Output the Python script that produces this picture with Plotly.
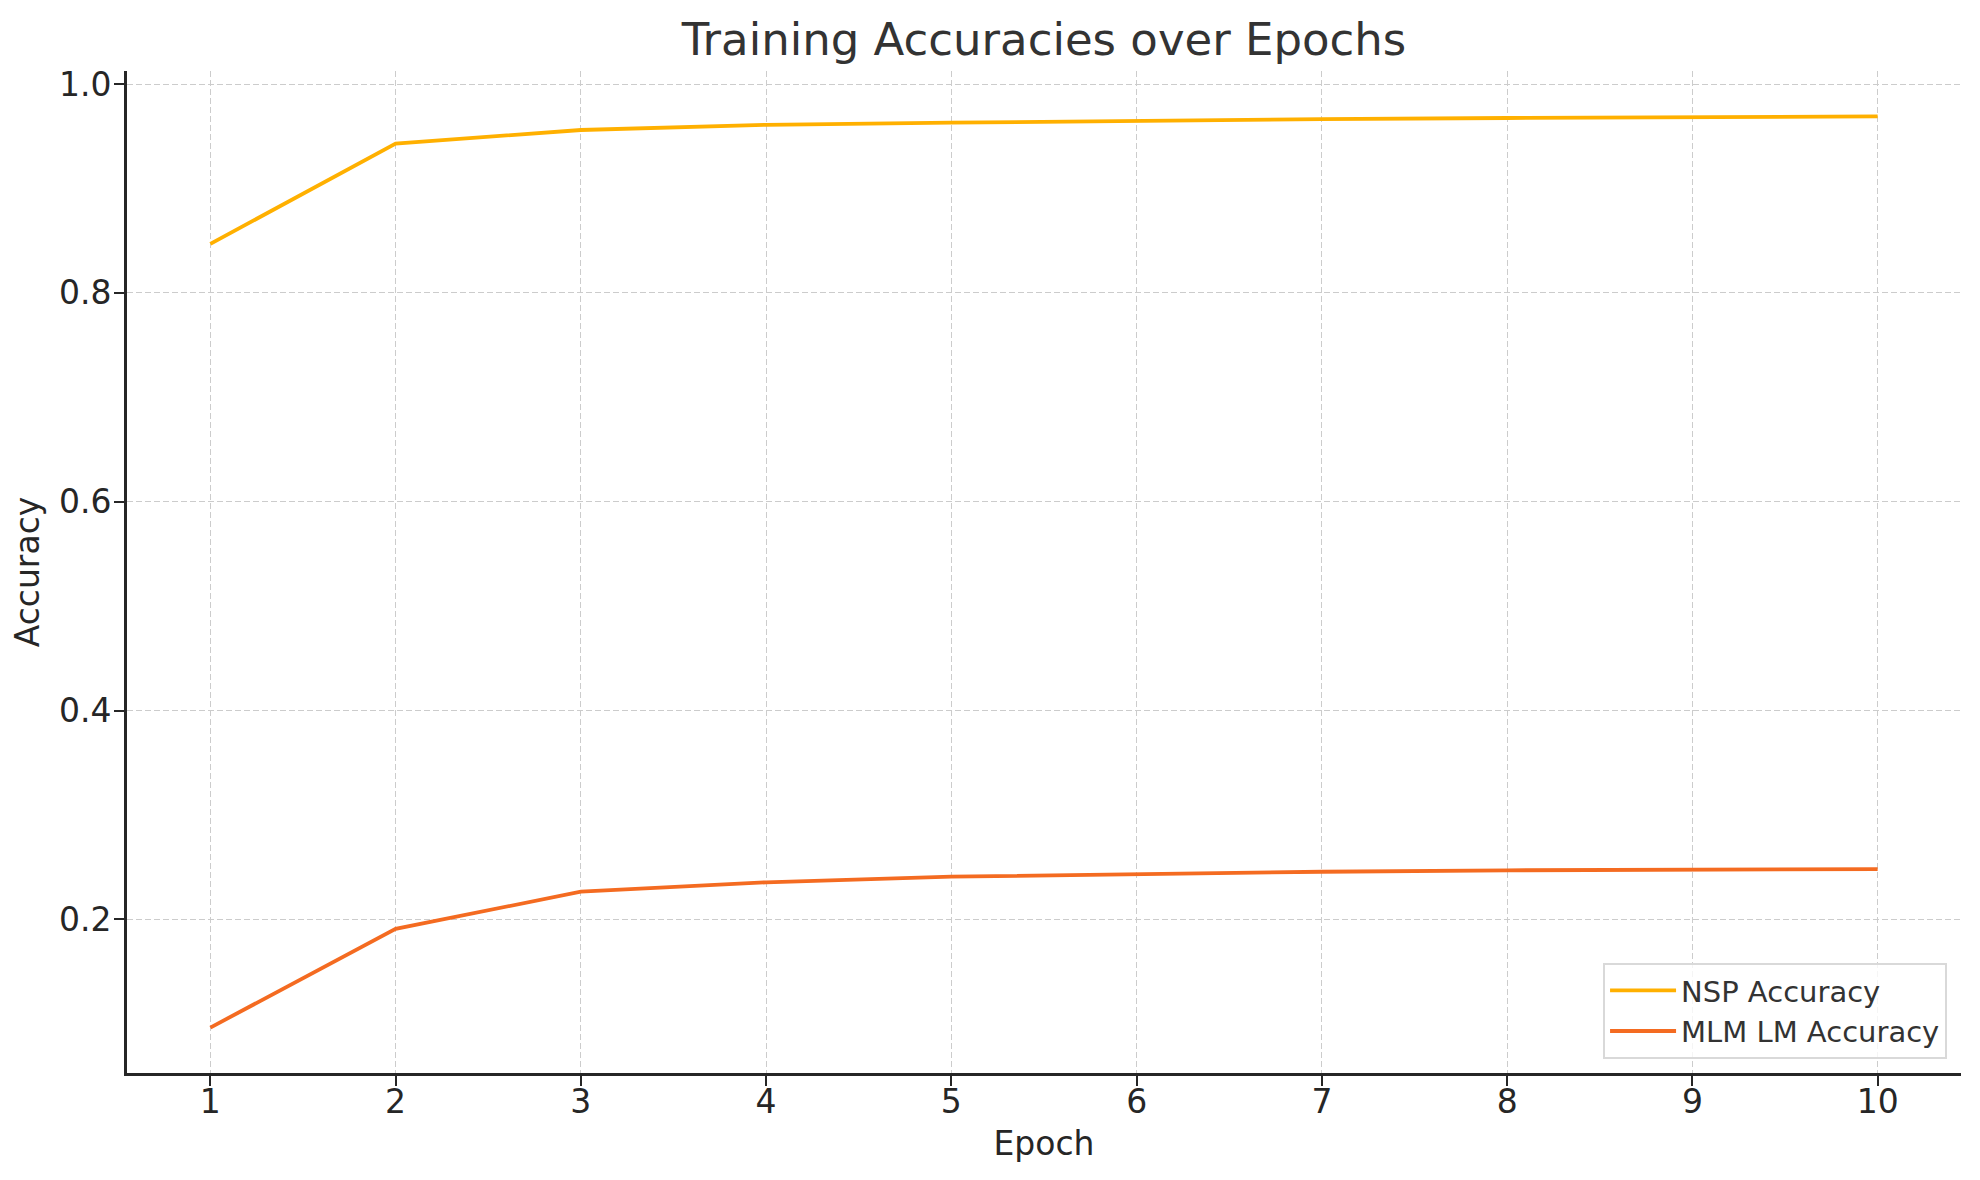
import plotly.graph_objects as go

epochs = [1, 2, 3, 4, 5, 6, 7, 8, 9, 10]
nsp_accuracy = [0.847, 0.943, 0.956, 0.961, 0.963, 0.965, 0.9665, 0.9675, 0.968, 0.969]
mlm_accuracy = [0.0965, 0.191, 0.2266, 0.2356, 0.241, 0.2438, 0.2457, 0.2471, 0.2477, 0.2483]
y_ticks = [0.2, 0.4, 0.6, 0.8, 1.0]
y_tick_labels = ["0.2", "0.4", "0.6", "0.8", "1.0"]

FONT = "DejaVu Sans"
AXC = "#262626"
W, H = 1972, 1172

fig = go.Figure()
fig.add_trace(go.Scatter(x=epochs, y=nsp_accuracy, mode="lines", name="NSP Accuracy",
                         line=dict(color="#FFB000", width=3.8)))
fig.add_trace(go.Scatter(x=epochs, y=mlm_accuracy, mode="lines", name="MLM LM Accuracy",
                         line=dict(color="#F46B21", width=3.8)))

fig.update_layout(
    width=W, height=H,
    margin=dict(l=119, r=19, t=63, b=107),
    paper_bgcolor="white", plot_bgcolor="white",
    font=dict(family=FONT, color=AXC, size=33),
    title=dict(text="Training Accuracies over Epochs", x=(1044 - 8) / W, xref="container", xanchor="center",
               y=1 - 31 / H, yref="container", yanchor="middle",
               font=dict(size=45, color="#333333", family=FONT)),
    showlegend=True,
    legend=dict(x=0.9924, y=0.014, xanchor="right", yanchor="bottom",
                bgcolor="rgba(255,255,255,0.8)", bordercolor="#d9d9d9", borderwidth=2,
                font=dict(size=29, color="#333333", family=FONT),
                itemwidth=66, tracegroupgap=0),
)

grid = dict(showgrid=True, gridcolor="#cccccc", gridwidth=1.4, griddash="6px,3px")
fig.update_xaxes(
    range=[0.55, 10.45], tickmode="array", tickvals=epochs, ticktext=[str(e) for e in epochs],
    showline=True, linecolor=AXC, linewidth=2.7, mirror=False,
    ticks="outside", ticklen=10, tickwidth=2, tickcolor=AXC, ticklabelstandoff=-12,
    zeroline=False, tickfont=dict(size=33, color=AXC, family=FONT),
    title=dict(text="Epoch", font=dict(size=33, color=AXC, family=FONT), standoff=12),
    **grid,
)
fig.update_yaxes(
    range=[0.053, 1.0125], tickmode="array", tickvals=y_ticks, ticktext=y_tick_labels,
    showline=True, linecolor=AXC, linewidth=2.7, mirror=False,
    ticks="outside", ticklen=10, tickwidth=2, tickcolor=AXC, ticklabelstandoff=-4,
    zeroline=False, tickfont=dict(size=33, color=AXC, family=FONT),
    title=dict(text="Accuracy", font=dict(size=33, color=AXC, family=FONT), standoff=14),
    **grid,
)

fig.write_html("out.html")
